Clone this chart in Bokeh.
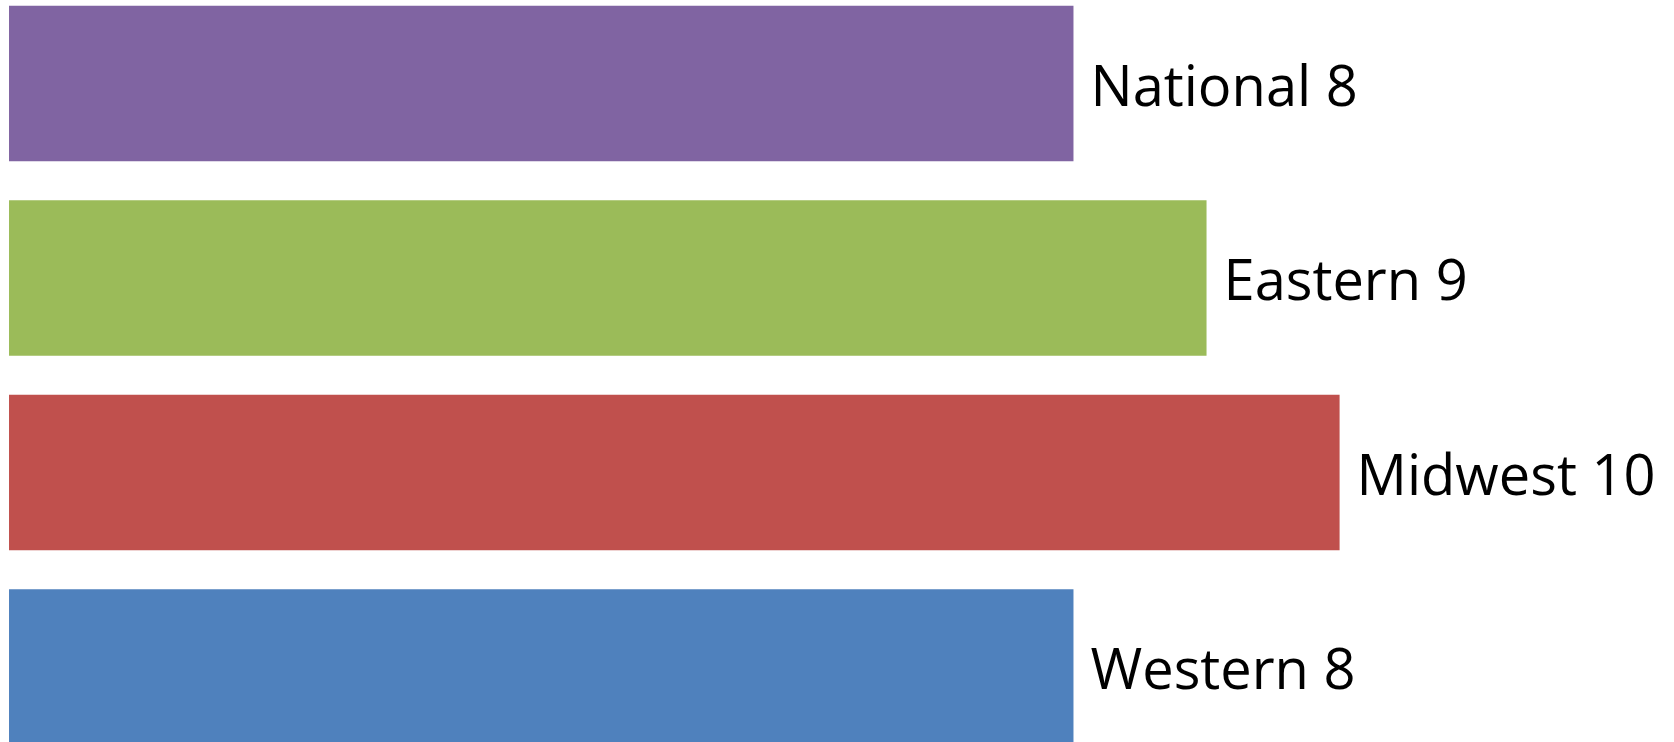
from bokeh.plotting import figure
from bokeh.models import ColumnDataSource, Range1d
from bokeh.core.properties import value
from bokeh.embed import file_html
from bokeh.resources import INLINE

categories = ["Western", "Midwest", "Eastern", "National"]
values = [8, 10, 9, 8]
colors = ["#4F81BD", "#C0504D", "#9BBB59", "#8064A2"]
labels = [f"{c} {v}" for c, v in zip(categories, values)]
positions = list(range(len(categories)))

src = ColumnDataSource(dict(y=positions, v=values, color=colors, label=labels))

p = figure(width=1674, height=742, output_backend="svg", toolbar_location=None,
           x_range=Range1d(-0.064, 12.517), y_range=Range1d(-0.388, 3.427),
           min_border=0, min_border_left=0, min_border_right=0,
           min_border_top=0, min_border_bottom=0)
p.axis.visible = False
p.grid.visible = False
p.outline_line_color = None
p.background_fill_color = "white"
p.border_fill_color = "white"

p.hbar(y="y", right="v", left=0, height=0.8, color="color", line_color=None, source=src)
p.text(x="v", y="y", text="label", source=src, x_offset=17, y_offset=0,
       text_baseline="alphabetic", text_align="left",
       text_font=value("Open Sans"), text_font_size="56px", text_color="black")

open("out.html", "w").write(file_html(p, INLINE))
